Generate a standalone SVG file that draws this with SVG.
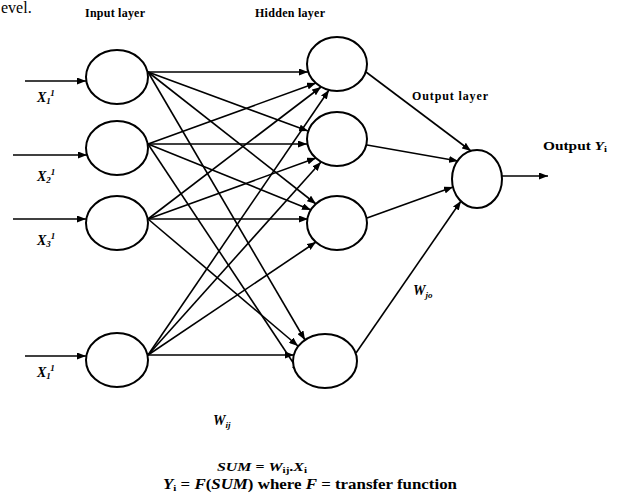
<svg xmlns="http://www.w3.org/2000/svg" width="617" height="504" viewBox="0 0 617 504">
  <style>
    .node { fill: #fff; stroke: #000; stroke-width: 2; }
    .edge { fill: none; stroke: #000; stroke-width: 1.6; marker-end: url(#arrow); }
    .lbl { font-family: "Liberation Serif", "Times New Roman", serif; font-weight: bold; fill: #000; }
    .it { font-style: italic; }
    .sub { font-size: 9px; }
  </style>
  <defs>
    <marker id="arrow" markerUnits="userSpaceOnUse" markerWidth="9" markerHeight="7" refX="9" refY="3.5" orient="auto">
      <path d="M0,0 L9,3.5 L0,7 z" fill="#000"/>
    </marker>
  </defs>

  <rect width="617" height="504" fill="#fff"/>

  <!-- fragment of the preceding page text -->
  <text x="1" y="13" font-family="Liberation Serif, serif" font-size="16" fill="#000">evel.</text>

  <!-- layer titles -->
  <text class="lbl" x="85" y="17" font-size="12" textLength="60">Input layer</text>
  <text class="lbl" x="255" y="17" font-size="12" textLength="70">Hidden layer</text>
  <text class="lbl" x="412" y="100" font-size="12" textLength="76">Output layer</text>
  <text class="lbl" x="543" y="150" font-size="13" textLength="64" lengthAdjust="spacingAndGlyphs">Output <tspan class="it">Y</tspan><tspan class="sub" dy="2">i</tspan></text>

  <!-- connectors -->
  <g id="connectors">
    <!-- external inputs -->
    <line class="edge" x1="25" y1="81" x2="86" y2="81"/>
    <line class="edge" x1="13" y1="155" x2="87" y2="155"/>
    <line class="edge" x1="13" y1="219" x2="86" y2="219"/>
    <line class="edge" x1="25" y1="356" x2="86" y2="356"/>

    <!-- input 1 to hidden -->
    <line class="edge" x1="148" y1="72" x2="308" y2="72"/>
    <line class="edge" x1="148" y1="72" x2="308" y2="131"/>
    <line class="edge" x1="148" y1="72" x2="316" y2="204"/>
    <line class="edge" x1="148" y1="72" x2="305" y2="340"/>

    <!-- input 2 to hidden -->
    <line class="edge" x1="148" y1="144" x2="316" y2="83"/>
    <line class="edge" x1="148" y1="144" x2="307" y2="144"/>
    <line class="edge" x1="148" y1="144" x2="311" y2="210"/>
    <line class="edge" x1="148" y1="144" x2="300" y2="373"/>

    <!-- input 3 to hidden -->
    <line class="edge" x1="148" y1="219" x2="321" y2="87"/>
    <line class="edge" x1="148" y1="219" x2="316" y2="158"/>
    <line class="edge" x1="148" y1="219" x2="308" y2="219"/>
    <line class="edge" x1="148" y1="219" x2="298" y2="346"/>

    <!-- input 4 to hidden -->
    <line class="edge" x1="148" y1="355" x2="329" y2="90"/>
    <line class="edge" x1="148" y1="355" x2="321" y2="162"/>
    <line class="edge" x1="148" y1="355" x2="316" y2="242"/>
    <line class="edge" x1="148" y1="355" x2="294" y2="355"/>

    <!-- hidden to output -->
    <line class="edge" x1="366" y1="72" x2="471" y2="151"/>
    <line class="edge" x1="367" y1="145" x2="458" y2="161"/>
    <line class="edge" x1="367" y1="218" x2="453" y2="187"/>
    <line class="edge" x1="356" y1="353" x2="461" y2="201"/>

    <!-- network output -->
    <line class="edge" x1="502" y1="176" x2="548" y2="176"/>
  </g>

  <!-- input layer -->
  <g id="in1"><ellipse class="node" cx="117" cy="77" rx="31" ry="27"/></g>
  <g id="in2"><ellipse class="node" cx="117" cy="148" rx="31" ry="27"/></g>
  <g id="in3"><ellipse class="node" cx="117" cy="223" rx="31" ry="27"/></g>
  <g id="in4"><ellipse class="node" cx="117" cy="360" rx="31" ry="27"/></g>

  <!-- hidden layer -->
  <g id="h1"><ellipse class="node" cx="337" cy="64" rx="30" ry="27"/></g>
  <g id="h2"><ellipse class="node" cx="337" cy="139" rx="30" ry="27"/></g>
  <g id="h3"><ellipse class="node" cx="337" cy="223" rx="30" ry="27"/></g>
  <g id="h4"><ellipse class="node" cx="325" cy="361" rx="32" ry="27"/></g>

  <!-- output layer -->
  <g id="out"><ellipse class="node" cx="477" cy="179" rx="25" ry="29"/></g>

  <!-- input labels -->
  <text class="lbl it" x="37" y="102" font-size="14">X<tspan class="sub" dy="2">1</tspan><tspan class="sub" dy="-8">1</tspan></text>
  <text class="lbl it" x="37" y="181" font-size="14">X<tspan class="sub" dy="2">2</tspan><tspan class="sub" dy="-8">1</tspan></text>
  <text class="lbl it" x="37" y="245" font-size="14">X<tspan class="sub" dy="2">3</tspan><tspan class="sub" dy="-8">1</tspan></text>
  <text class="lbl it" x="37" y="377" font-size="14">X<tspan class="sub" dy="2">1</tspan><tspan class="sub" dy="-8">1</tspan></text>

  <!-- weight labels -->
  <text class="lbl it" x="413" y="295" font-size="14">W<tspan class="sub" dy="3">jo</tspan></text>
  <text class="lbl it" x="213" y="425" font-size="14">W<tspan class="sub" dy="3">ij</tspan></text>

  <!-- formulas -->
  <text class="lbl" x="217" y="471" font-size="13" textLength="90" lengthAdjust="spacingAndGlyphs"><tspan class="it">SUM</tspan> = <tspan class="it">W</tspan><tspan class="sub" dy="2">ij</tspan><tspan dy="-2">.</tspan><tspan class="it">X</tspan><tspan class="sub" dy="2">i</tspan></text>
  <text class="lbl" x="163" y="489" font-size="14" textLength="294" lengthAdjust="spacingAndGlyphs"><tspan class="it">Y</tspan><tspan class="sub" dy="2">i</tspan><tspan dy="-2"> = </tspan><tspan class="it">F</tspan>(<tspan class="it">SUM</tspan>)  where <tspan class="it">F</tspan> = transfer function</text>
</svg>
